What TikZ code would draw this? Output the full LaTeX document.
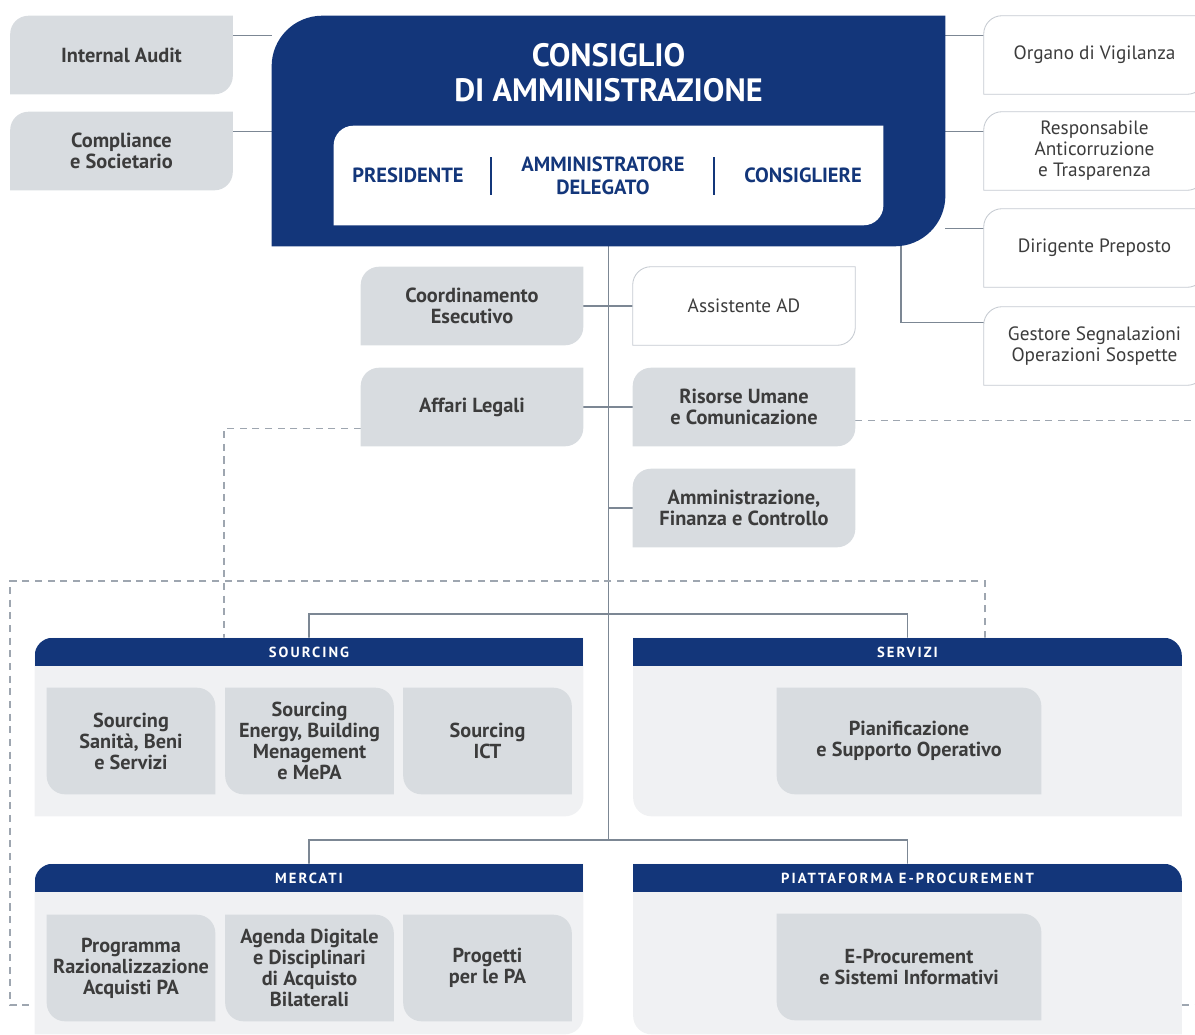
\documentclass[tikz,border=0pt]{standalone}
\usepackage{fontspec}
\setmainfont{PT Sans}
\newfontfamily\headfont{PT Sans}[LetterSpace=14]
\usetikzlibrary{backgrounds}

\definecolor{cdablue}{HTML}{13367A}
\definecolor{boxgrey}{HTML}{D8DCE0}
\definecolor{panelgrey}{HTML}{F0F1F3}
\definecolor{wire}{HTML}{7C8794}
\definecolor{dashgrey}{HTML}{9EA6B0}
\definecolor{edge}{HTML}{C5CAD1}
\definecolor{ink}{HTML}{3C3C3C}

\newcommand\leafA[2]{(#1.north east) -- ([yshift=#2]#1.south east) arc[start angle=0, end angle=-90, radius=#2] -- (#1.south west) -- ([yshift=-#2]#1.north west) arc[start angle=180, end angle=90, radius=#2] -- cycle}
\newcommand\leafB[2]{(#1.north west) -- ([xshift=-#2]#1.north east) arc[start angle=90, end angle=0, radius=#2] -- (#1.south east) -- ([xshift=#2]#1.south west) arc[start angle=270, end angle=180, radius=#2] -- cycle}

\begin{document}
\begin{tikzpicture}[x=0.025cm, y=-0.025cm,
    unitbox/.style={inner sep=0pt, align=center, minimum width=5.55cm, minimum height=1.95cm, text=ink},
    greybox/.style={unitbox, font=\fontsize{14.5}{15}\selectfont\bfseries},
    whitebox/.style={unitbox, font=\fontsize{13.7}{15}\selectfont},
    rightbox/.style={whitebox, minimum width=5.525cm},
    subbox/.style={inner sep=0pt, align=center, minimum width=4.2cm, minimum height=2.65cm, text=ink, font=\fontsize{14.4}{15}\selectfont\bfseries},
    widebox/.style={subbox, minimum width=6.6cm},
    panel/.style={inner sep=0pt, minimum width=13.7cm},
    head/.style={inner sep=0pt, minimum width=13.7cm, minimum height=0.7cm, text=white, font=\headfont\fontsize{10.4}{12}\selectfont\bfseries},
    boardtext/.style={align=center, text=cdablue, font=\fontsize{14.6}{16.4}\selectfont\bfseries},
    conn/.style={draw=wire, line width=1pt},
    dashconn/.style={draw=dashgrey, line width=0.8pt, dash pattern=on 5pt off 4pt}]
\useasboundingbox (0,0) rectangle (1195,1034);

\node (cda) [minimum width=16.825cm, minimum height=5.75cm] at (608.5,131) {};
\node (title) [align=center, text=white, font=\fontsize{23}{25}\selectfont\bfseries] at (608.5,73) {CONSIGLIO\\DI AMMINISTRAZIONE};
\node (board) [minimum width=13.725cm, minimum height=2.475cm] at (608.5,175.5) {};
\node (pres) [boardtext] at (408,175) {PRESIDENTE};
\node (ad) [boardtext] at (603,176) {AMMINISTRATORE\\DELEGATO};
\node (cons) [boardtext] at (803,175) {CONSIGLIERE};
\draw[cdablue, line width=0.9pt] (491,157) -- (491,195);
\draw[cdablue, line width=0.9pt] (714,157) -- (714,195);

\node (audit) [greybox] at (121.5,55) {Internal Audit};
\node (comp) [greybox] at (121.5,151) {Compliance\\e Societario};

\node (vig) [rightbox] at (1094.5,55) {Organo di Vigilanza};
\node (resp) [rightbox] at (1094.5,151) {Responsabile\\Anticorruzione\\e Trasparenza};
\node (dir) [rightbox] at (1094.5,248) {Dirigente Preposto};
\node (gest) [rightbox] at (1094.5,346) {Gestore Segnalazioni\\Operazioni Sospette};

\node (coordesec) [greybox] at (472,306) {Coordinamento\\Esecutivo};
\node (assist) [whitebox] at (744,306) {Assistente AD};
\node (legal) [greybox] at (472,407) {Affari Legali};
\node (hr) [greybox] at (744,407) {Risorse Umane\\e Comunicazione};
\node (afc) [greybox] at (744,508) {Amministrazione,\\Finanza e Controllo};

\node (srcpanel) [panel, minimum height=4.45cm] at (309,727) {};
\node (srchead) [head] at (309,652) {SOURCING};
\node (s1) [subbox] at (131,741) {Sourcing\\Sanità, Beni\\e Servizi};
\node (s2) [subbox] at (309.5,741) {Sourcing\\Energy, Building\\Menagement\\e MePA};
\node (s3) [subbox] at (487.5,741) {Sourcing\\ICT};

\node (srvpanel) [panel, minimum height=4.45cm] at (907.5,727) {};
\node (srvhead) [head] at (907.5,652) {SERVIZI};
\node (srv1) [widebox] at (909,741) {Pianificazione\\e Supporto Operativo};

\node (mktpanel) [panel, minimum height=4.25cm] at (309,949) {};
\node (mkthead) [head] at (309,878) {MERCATI};
\node (m1) [subbox] at (131,968) {Programma\\Razionalizzazione\\Acquisti PA};
\node (m2) [subbox] at (309.5,968) {Agenda Digitale\\e Disciplinari\\di Acquisto\\Bilaterali};
\node (m3) [subbox] at (487.5,968) {Progetti\\per le PA};

\node (eprpanel) [panel, minimum height=4.25cm] at (907.5,949) {};
\node (eprhead) [head] at (907.5,878) {PIATTAFORMA E-PROCUREMENT};
\node (epr1) [widebox] at (909,967) {E-Procurement\\e Sistemi Informativi};

\coordinate (tap) at (901,246);
\coordinate (hub1) at (608.5,614);
\coordinate (hub2) at (608.5,840);
\coordinate (legalx) at (224,428);
\coordinate (rim) at (1195,421);
\coordinate (fNE) at (985,581);
\coordinate (fNW) at (10,581);
\coordinate (fSW) at (10,1005);

\begin{scope}[on background layer]
\draw[conn] (audit.10) -- (audit.10 -| cda.west);
\draw[conn] (comp.10) -- (comp.10 -| cda.west);
\draw[conn] (vig.170) -- (vig.170 -| cda.east);
\draw[conn] (resp.170) -- (resp.170 -| cda.east);
\draw[conn] (dir.170) -- (dir.170 -| cda.east);
\draw[conn] (tap) |- (gest.168);
\draw[conn] (cda.south) -- (hub2);
\draw[conn] (coordesec) -- (assist);
\draw[conn] (legal) -- (hr);
\draw[conn] (afc.west) -- (afc.west -| cda.south);
\draw[conn] (srchead.north) |- (hub1) -| (srvhead.north);
\draw[conn] (mkthead.north) |- (hub2) -| (eprhead.north);
\draw[dashconn] (legal.191) -| (srchead.north -| legalx);
\draw[dashconn] (hr.353) -- (hr.353 -| rim);
\draw[dashconn] (srvhead.north -| fNE) -- (fNE) -- (fNW) -- (fSW) -- (fSW -| mktpanel.west);
\draw[dashconn] (fSW -| eprpanel.east) -- (fSW -| rim);

\fill[cdablue] \leafA{cda}{36pt};
\fill[white] \leafA{board}{14pt};
\foreach \n in {audit,comp,coordesec,legal,hr,afc}
  \fill[boxgrey] \leafA{\n}{13pt};
\foreach \n in {vig,resp,dir,gest,assist}
  \filldraw[fill=white, draw=edge, line width=0.6pt] \leafA{\n}{13pt};
\foreach \p/\h in {srcpanel/srchead, mktpanel/mkthead} {
  \fill[panelgrey] \leafA{\p}{13pt};
  \begin{scope}
    \clip \leafA{\p}{13pt};
    \fill[cdablue] (\h.north west) rectangle (\h.south east);
  \end{scope}
}
\foreach \p/\h in {srvpanel/srvhead, eprpanel/eprhead} {
  \fill[panelgrey] \leafB{\p}{13pt};
  \begin{scope}
    \clip \leafB{\p}{13pt};
    \fill[cdablue] (\h.north west) rectangle (\h.south east);
  \end{scope}
}
\foreach \n in {s1,s2,s3,m1,m2,m3}
  \fill[boxgrey] \leafB{\n}{13pt};
\foreach \n in {srv1,epr1}
  \fill[boxgrey] \leafB{\n}{13pt};
\end{scope}
\end{tikzpicture}
\end{document}
